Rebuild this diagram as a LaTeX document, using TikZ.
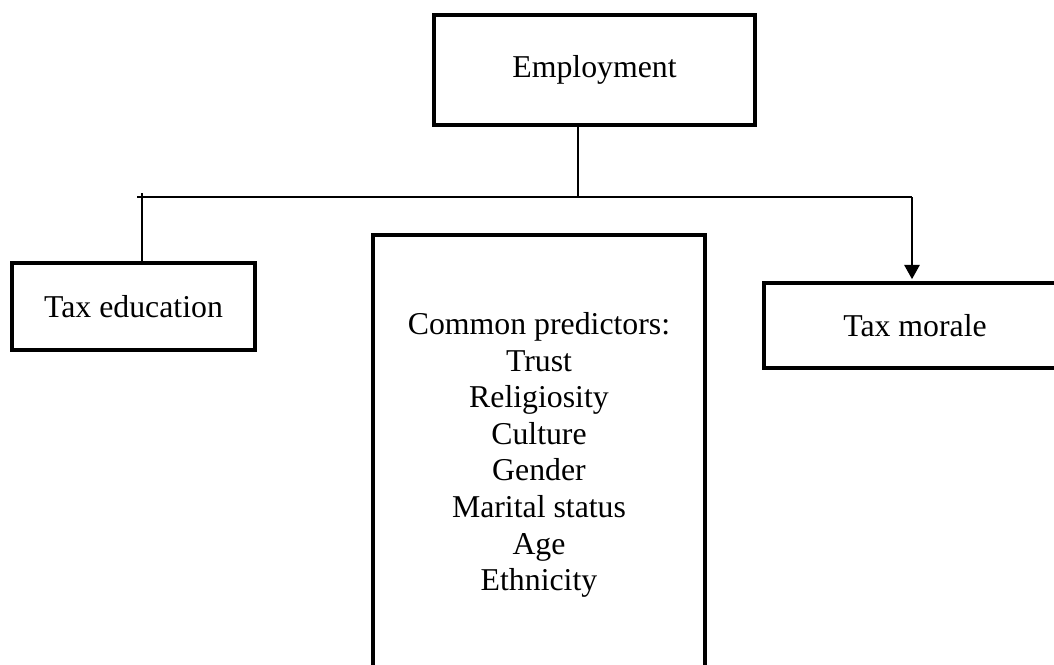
\documentclass[tikz,border=0pt]{standalone}
\usepackage{fontspec}
\setmainfont{Liberation Serif}
\usetikzlibrary{arrows.meta}
\newcommand{\pxu}{0.3774pt}

\begin{document}
\begin{tikzpicture}[x=\pxu,y=-\pxu,
    box/.style={draw,line width=1.7pt,inner sep=0pt,font=\fontsize{12}{13.8}\selectfont},
    link/.style={line width=0.7pt}]
    \clip (0,0) rectangle (1054,665);

    \node[box,minimum width=321*\pxu,minimum height=110*\pxu] (emp) at (594.5,70) {Employment};
    \node[box,minimum width=243*\pxu,minimum height=87*\pxu] (taxedu) at (133.5,306.5) {Tax education};
    \node[box,minimum width=302*\pxu,minimum height=85*\pxu] (morale) at (915,325.5) {Tax morale};
    \node[box,minimum width=332*\pxu,minimum height=465*\pxu] (pred) at (539,467.5) {};
    \node[align=center,inner sep=0pt,font=\fontsize{12}{13.8}\selectfont] (predlist) at (539,455)
      {Common predictors:\\Trust\\Religiosity\\Culture\\Gender\\Marital status\\Age\\Ethnicity};

    \coordinate (split) at (578,197);
    \coordinate (leftend) at (137,197);
    \coordinate (rightend) at (912,197);
    \coordinate (edutop) at (142,193);
    \draw[link] (emp.south -| split) -- (split);
    \draw[link] (leftend) -- (rightend);
    \draw[link] (edutop) -- (edutop |- taxedu.north);
    \draw[link,-{Triangle[width=5.8pt,length=5.4pt]},shorten >=0.6pt] (rightend) -- (rightend |- morale.north);
\end{tikzpicture}
\end{document}
